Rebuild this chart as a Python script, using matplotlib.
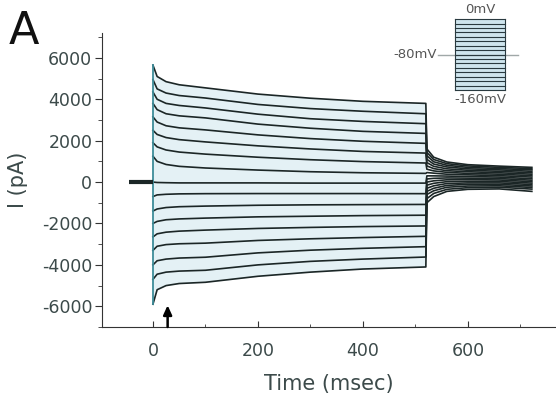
import matplotlib.pyplot as plt
from matplotlib.ticker import MultipleLocator

plt.rcParams['axes.unicode_minus'] = False

# время (мс) и токи (пА) во время ступеньки, 17 записей сверху вниз
pulse_t = [0, 8, 25, 50, 100, 200, 300, 400, 520]
pulse_pA = [
    [5650, 5100, 4850, 4700, 4550, 4250, 4050, 3900, 3800],
    [4950, 4500, 4300, 4180, 4060, 3750, 3550, 3420, 3300],
    [4350, 4000, 3800, 3700, 3580, 3280, 3060, 2930, 2820],
    [3800, 3500, 3300, 3200, 3100, 2800, 2600, 2450, 2350],
    [3150, 2900, 2720, 2620, 2520, 2280, 2100, 1970, 1870],
    [2500, 2300, 2150, 2050, 1940, 1750, 1600, 1480, 1400],
    [1900, 1700, 1550, 1450, 1350, 1200, 1080, 990, 920],
    [1250, 1000, 850, 760, 680, 580, 500, 450, 420],
    [0, -20, -30, -40, -40, -40, -50, -50, -50],
    [-700, -620, -590, -570, -560, -555, -555, -555, -560],
    [-1400, -1300, -1230, -1190, -1160, -1120, -1100, -1090, -1080],
    [-2000, -1900, -1820, -1780, -1740, -1680, -1650, -1620, -1600],
    [-2650, -2500, -2420, -2370, -2320, -2240, -2190, -2150, -2120],
    [-3300, -3100, -3020, -2980, -2950, -2820, -2740, -2680, -2620],
    [-4000, -3800, -3720, -3670, -3630, -3420, -3290, -3200, -3120],
    [-4700, -4450, -4350, -4300, -4260, -4000, -3830, -3720, -3620],
    [-5900, -5200, -5000, -4900, -4840, -4550, -4350, -4200, -4100],
]

# хвостовые токи после возврата к -80 мВ
tail_t = [522, 535, 560, 600, 660, 722]
tail_pA = [
    [1600, 1200, 970, 840, 770, 710],
    [1430, 1090, 890, 780, 710, 650],
    [1270, 980, 810, 710, 650, 590],
    [1100, 870, 730, 640, 590, 520],
    [940, 760, 640, 570, 520, 450],
    [780, 650, 550, 500, 450, 380],
    [620, 540, 470, 420, 380, 310],
    [460, 430, 380, 350, 310, 240],
    [300, 300, 290, 270, 240, 160],
    [150, 180, 200, 190, 170, 90],
    [0, 60, 110, 120, 100, 20],
    [-150, -60, 20, 40, 30, -50],
    [-300, -180, -70, -40, -40, -120],
    [-450, -300, -160, -110, -110, -190],
    [-600, -420, -250, -190, -180, -260],
    [-800, -550, -350, -270, -250, -340],
    [-1000, -700, -450, -350, -330, -450],
]

hold_t = [-45, 0]
hold_pA = [0, 0]
arrow_t = 28

# протокол для вставки
step_mV = list(range(-160, 1, 10))
hold_mV = -80
step_len = 100

trace_color = '#1b2626'
text_color = '#3c4a4a'

fig = plt.figure(figsize=(5.56, 4.04), dpi=100)
ax = fig.add_axes([0.1835, 0.1906, 0.8165, 0.7277])

ax.fill_between(pulse_t, pulse_pA[0], pulse_pA[-1], color='#e4f1f5', lw=0)
for row_p, row_t in zip(pulse_pA, tail_pA):
    ax.plot(pulse_t + tail_t, row_p + row_t, color=trace_color, lw=1.2)
ax.plot([0, 0], [pulse_pA[-1][0], pulse_pA[0][0]], color='#3d8c99', lw=1.3)
ax.plot(hold_t, hold_pA, color=trace_color, lw=3, solid_capstyle='butt')

ax.annotate('', xy=(arrow_t, -5950), xytext=(arrow_t, -7000),
            arrowprops=dict(arrowstyle='-|>,head_width=0.25,head_length=0.55',
                            color='black', lw=1.8, shrinkA=0, shrinkB=0))

ax.set_xlim(-97, 768)
ax.set_ylim(-7000, 7200)
for s in ['top', 'right']:
    ax.spines[s].set_visible(False)
for s in ['left', 'bottom']:
    ax.spines[s].set_color('#333333')
ax.set_xticks([0, 200, 400, 600])
ax.xaxis.set_minor_locator(MultipleLocator(100))
ax.set_yticks(range(-6000, 6001, 2000))
ax.yaxis.set_minor_locator(MultipleLocator(1000))
ax.tick_params(axis='x', which='major', direction='in', length=4, pad=11,
               labelsize=12.5, colors='#333333', labelcolor=text_color)
ax.tick_params(axis='x', which='minor', direction='in', length=2, colors='#333333')
ax.tick_params(axis='y', which='major', direction='out', length=5, pad=2,
               labelsize=12.5, colors='#333333', labelcolor=text_color)
ax.tick_params(axis='y', which='minor', direction='out', length=3, colors='#333333')
ax.set_xlabel('Time (msec)', fontsize=15, color=text_color, labelpad=10)
ax.set_ylabel('I (pA)', fontsize=15, color=text_color, labelpad=10)

fig.text(0.015, 0.975, 'A', fontsize=32, va='top', ha='left', color='#111111')

# вставка с протоколом
ins = fig.add_axes([0.7554, 0.7277, 0.2158, 0.2723])
ins.set_xlim(-70, 170)
ins.set_ylim(-205, 43)
ins.axis('off')
ins.plot([-34, step_len + 26], [hold_mV, hold_mV], color='#a0a8a8', lw=1)
ins.fill_between([0, step_len], step_mV[0], step_mV[-1], color='#cfe5ee', lw=0)
for v in step_mV:
    ins.plot([0, step_len], [v, v], color='#2a3a40', lw=0.8)
ins.plot([0, 0], [step_mV[0], step_mV[-1]], color='#2a3a40', lw=0.8)
ins.plot([step_len, step_len], [step_mV[0], step_mV[-1]], color='#2a3a40', lw=0.8)
ins.text(step_len / 2, 8, '0mV', ha='center', va='bottom', fontsize=9.5, color='#555555')
ins.text(step_len / 2, -166, '-160mV', ha='center', va='top', fontsize=9.5, color='#555555')
ins.text(-36, hold_mV, '-80mV', ha='right', va='center', fontsize=9.5, color='#555555')

fig.savefig('out.png', dpi=100)
